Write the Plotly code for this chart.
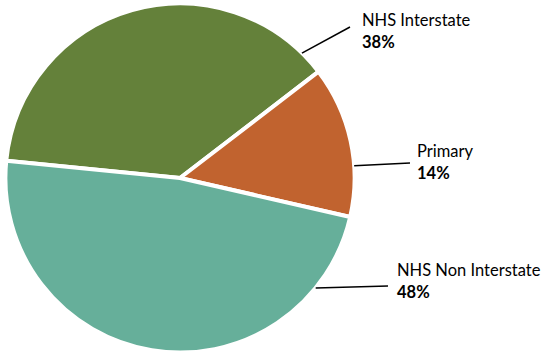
import math
import plotly.graph_objects as go

# Share of mileage by road system
labels = ["NHS Interstate", "Primary", "NHS Non Interstate"]
values = [38, 14, 48]
colors = ["#64813A", "#C1632F", "#66AF9A"]

W, H = 547, 356
# pie placement (pixels from top-left of the page)
cx, cy, R = 180, 178, 174.6
start_angle = 275.7  # first slice start, degrees clockwise from 12 o'clock

# callout layout per slice: rim angle of leader start, leader end (x, y),
# text left x, centre y of the name line, centre y of the percent line
callouts = {
    "NHS Interstate":     (44.3, 350, 27, 360, 20, 41.5),
    "Primary":            (86.0, 410, 163, 415, 151, 173),
    "NHS Non Interstate": (129.0, 388, 286, 394.5, 270, 291.5),
}


def px(x):
    return x / W


def py(y):
    return 1 - y / H


total = sum(values)

fig = go.Figure(
    go.Pie(
        labels=labels,
        values=values,
        sort=False,
        direction="clockwise",
        rotation=start_angle,
        marker=dict(colors=colors, line=dict(color="white", width=4)),
        textinfo="none",
        hoverinfo="label+percent",
        showlegend=False,
        domain=dict(x=[px(cx - R), px(cx + R)], y=[py(cy + R), py(cy - R)]),
    )
)

font_name = dict(family="Lato, 'Open Sans', sans-serif", size=16.5, color="#000000")
annotations = []
shapes = []
for lab, val in zip(labels, values):
    ang, ex, ey, tx, y1, y2 = callouts[lab]
    a = math.radians(ang)
    sx = cx + R * math.sin(a)
    sy = cy - R * math.cos(a)
    shapes.append(dict(type="line", xref="paper", yref="paper",
                       x0=px(sx), y0=py(sy), x1=px(ex), y1=py(ey),
                       line=dict(color="black", width=1.5)))
    annotations.append(dict(text=lab, x=px(tx), y=py(y1), xref="paper", yref="paper",
                            xanchor="left", yanchor="middle", showarrow=False,
                            font=font_name))
    annotations.append(dict(text=f"<b>{round(val / total * 100)}%</b>", x=px(tx), y=py(y2),
                            xref="paper", yref="paper", xanchor="left", yanchor="middle",
                            showarrow=False, font=font_name))

fig.update_layout(
    width=W, height=H,
    margin=dict(l=0, r=0, t=0, b=0),
    paper_bgcolor="white",
    plot_bgcolor="white",
    annotations=annotations,
    shapes=shapes,
)

fig.write_html("out.html")
